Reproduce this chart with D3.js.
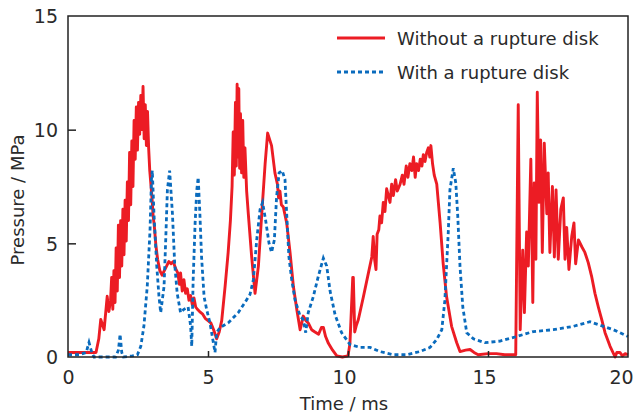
<!DOCTYPE html>
<html lang="en">
<head>
<meta charset="utf-8"/>
<title>Pressure vs time</title>
<style>
    body { margin: 0; background: #fff; }
    .axis text { font: 19px "DejaVu Sans", sans-serif; fill: #2a2a2a; }
    .axis line { stroke: #222; stroke-width: 1.5; }
    .title { font: 18px "DejaVu Sans", sans-serif; fill: #2a2a2a; }
    .legend text { font: 18px "DejaVu Sans", sans-serif; fill: #2a2a2a; }
</style>
</head>
<body>
<div id="graph"></div>
<script src="https://d3js.org/d3.v7.min.js"></script>
<script>
    // time (ms) and pressure (MPa)
    var redT = [0, 0.5, 1.0, 1.1, 1.17, 1.29, 1.40, 1.46, 1.52, 1.56, 1.60, 1.64, 1.68, 1.72, 1.76, 1.80, 1.84, 1.88, 1.92, 1.96,
        2.00, 2.04, 2.08, 2.12, 2.16, 2.20, 2.24, 2.28, 2.32, 2.36, 2.40, 2.44, 2.48, 2.52, 2.56, 2.60, 2.64, 2.68, 2.72, 2.76,
        2.80, 2.84, 2.88, 2.92, 2.96, 3.00, 3.04, 3.08, 3.14, 3.20, 3.28, 3.36, 3.44, 3.52, 3.60, 3.68, 3.76, 3.84, 3.92, 3.98,
        4.02, 4.08, 4.14, 4.20, 4.26, 4.32, 4.38, 4.44, 4.50, 4.56, 4.62, 4.70, 4.80, 4.90, 5.00, 5.10, 5.20, 5.31, 5.40, 5.49,
        5.61, 5.72, 5.80, 5.86, 5.90, 5.94, 5.98, 6.01, 6.04, 6.07, 6.10, 6.13, 6.16, 6.20, 6.24, 6.28, 6.32, 6.38, 6.44, 6.56,
        6.68, 6.80, 6.92, 7.04, 7.13, 7.27, 7.39, 7.48, 7.52, 7.57, 7.62, 7.69, 7.81, 7.93, 8.05, 8.17, 8.29, 8.35, 8.40, 8.50,
        8.58, 8.70, 8.82, 8.95, 9.05, 9.12, 9.20, 9.30, 9.45, 9.60, 9.80, 10.00, 10.07, 10.17, 10.19, 10.24, 10.30, 10.37, 10.55, 10.73,
        10.85, 10.90, 10.95, 11.00, 11.04, 11.10, 11.14, 11.20, 11.26, 11.32, 11.38, 11.44, 11.50, 11.56, 11.62, 11.70, 11.76, 11.86, 11.94, 12.00,
        12.08, 12.14, 12.21, 12.28, 12.34, 12.40, 12.45, 12.52, 12.58, 12.64, 12.69, 12.75, 12.81, 12.87, 12.92, 12.96, 13.02, 13.08, 13.17, 13.29,
        13.40, 13.52, 13.70, 13.88, 14.00, 14.20, 14.36, 14.50, 14.65, 15.00, 15.30, 15.60, 15.99, 16.08, 16.15, 16.24, 16.30, 16.38, 16.44, 16.53,
        16.60, 16.65, 16.71, 16.76, 16.82, 16.88, 16.94, 17.01, 17.10, 17.15, 17.21, 17.30, 17.37, 17.43, 17.51, 17.60, 17.69, 17.75, 17.81, 17.89,
        17.99, 18.07, 18.13, 18.23, 18.35, 18.46, 18.58, 18.70, 18.82, 18.94, 19.06, 19.18, 19.36, 19.54, 19.60, 19.71, 19.80, 19.90, 20.00];
    var redP = [0.2, 0.2, 0.2, 0.8, 1.65, 1.2, 2.67, 2.0, 2.5, 3.5, 2.1, 3.8, 2.4, 4.8, 2.9, 5.8, 3.5, 6.0, 4.0, 6.5,
        4.5, 6.9, 5.1, 7.7, 6.0, 9.0, 6.7, 9.5, 7.5, 10.4, 8.7, 11.0, 9.1, 11.2, 9.8, 11.5, 10.0, 11.9, 9.6, 11.1,
        9.3, 10.8, 9.2, 8.2, 7.6, 7.0, 6.2, 5.8, 4.9, 4.3, 3.8, 3.6, 3.8, 4.0, 4.2, 4.1, 4.2, 3.9, 3.7, 3.2,
        3.7, 2.9, 3.4, 2.8, 3.0, 2.5, 2.7, 2.3, 2.6, 2.2, 2.1, 2.0, 1.9, 1.7, 1.6, 1.5, 1.2, 0.8, 1.1, 1.6,
        3.1, 4.6, 6.0, 7.5, 9.9, 8.0, 11.2, 8.4, 12.0, 8.8, 11.8, 8.3, 10.7, 8.1, 10.4, 7.9, 9.2, 7.3, 6.3, 4.4,
        2.8, 4.0, 6.3, 8.5, 9.85, 9.3, 8.1, 7.6, 7.0, 7.3, 6.7, 6.6, 5.9, 4.6, 3.1, 2.1, 1.2, 1.5, 1.8, 1.6,
        1.5, 1.2, 1.1, 1.0, 1.3, 1.3, 0.9, 0.6, 0.3, 0.05, 0.0, 0.05, 0.6, 3.5, 3.5, 1.1, 1.4, 1.65, 2.65, 3.7,
        4.4, 5.3, 4.3, 3.85, 5.4, 5.6, 6.2, 5.9, 6.8, 6.4, 7.4, 7.1, 6.8, 7.6, 7.1, 7.8, 7.3, 7.6, 8.0, 7.6,
        8.4, 7.9, 8.5, 8.2, 8.8, 7.9, 8.5, 8.2, 8.7, 8.4, 8.9, 8.6, 9.0, 9.2, 8.8, 9.3, 8.5, 8.0, 7.6, 5.9,
        4.1, 2.66, 1.35, 0.64, 0.24, 0.3, 0.33, 0.2, 0.1, 0.15, 0.15, 0.1, 0.1, 11.1, 1.2, 4.7, 1.95, 5.5, 4.0, 8.7,
        2.4, 7.66, 4.3, 11.65, 6.8, 9.55, 4.6, 9.4, 6.3, 8.1, 4.6, 7.5, 4.4, 7.35, 4.3, 6.5, 7.0, 4.3, 5.7, 3.85,
        5.3, 5.9, 4.1, 5.15, 4.85, 4.6, 4.15, 3.55, 2.8, 2.2, 1.65, 1.07, 0.47, 0.0, 0.2, 0.2, 0.05, 0.15, 0.1];

    var blueT = [0, 0.4, 0.65, 0.75, 0.85, 0.93, 1.3, 1.7, 1.8, 1.86, 1.92, 1.98, 2.3, 2.48, 2.6, 2.71, 2.83, 2.93, 2.98, 3.01,
        3.07, 3.17, 3.25, 3.31, 3.43, 3.49, 3.55, 3.63, 3.73, 3.81, 3.90, 4.02, 4.14, 4.29, 4.38, 4.42, 4.47, 4.54, 4.60, 4.65,
        4.71, 4.77, 4.86, 4.95, 5.07, 5.19, 5.25, 5.31, 5.43, 5.72, 6.08, 6.32, 6.50, 6.62, 6.74, 6.86, 6.95, 7.06, 7.18, 7.27,
        7.37, 7.45, 7.54, 7.65, 7.75, 7.81, 7.89, 7.99, 8.11, 8.29, 8.40, 8.49, 8.58, 8.76, 8.94, 9.12, 9.24, 9.36, 9.54, 9.77,
        10.07, 10.43, 10.79, 11.14, 11.62, 12.10, 12.57, 12.93, 13.17, 13.35, 13.46, 13.52, 13.58, 13.64, 13.76, 13.85, 13.92, 14.00, 14.10, 14.24,
        14.48, 14.89, 15.43, 16.02, 16.62, 17.33, 18.05, 18.64, 19.00, 19.48, 19.83, 20.00];
    var blueP = [0.1, 0.1, 0.2, 0.64, 0.2, 0.0, 0.0, 0.0, 0.3, 1.0, 0.2, 0.0, 0.05, 0.1, 0.47, 1.35, 3.1, 5.6, 7.8, 8.2,
        6.3, 4.0, 2.65, 1.95, 3.1, 5.15, 7.35, 8.2, 6.3, 4.1, 2.8, 1.95, 2.1, 2.2, 1.35, 0.47, 3.4, 5.9, 7.35, 7.9,
        6.3, 4.4, 2.65, 2.1, 1.5, 0.64, 0.2, 1.07, 1.3, 1.5, 1.95, 2.4, 2.75, 3.4, 5.15, 6.5, 6.8, 6.0, 5.0, 4.6,
        5.15, 7.05, 8.1, 8.2, 7.8, 6.3, 4.4, 3.4, 2.5, 1.8, 1.65, 1.07, 1.95, 2.65, 3.55, 4.35, 4.0, 2.9, 1.85, 1.07,
        0.55, 0.42, 0.42, 0.24, 0.1, 0.1, 0.24, 0.42, 0.77, 1.2, 2.5, 4.0, 5.45, 7.35, 8.3, 7.65, 6.2, 4.0, 2.2, 1.07,
        0.8, 0.63, 0.7, 0.9, 1.12, 1.2, 1.35, 1.55, 1.4, 1.2, 1.0, 0.9];

    var xTicks = [0, 5, 10, 15, 20];
    var yTicks = [0, 5, 10, 15];
    var seriesNames = ["Without a rupture disk", "With a rupture disk"];
    var seriesColors = ["#ec1c24", "#0a6bbd"];

    var W = 636, H = 416;
    var x = d3.scaleLinear().domain([0, 20]).range([68, 628]);
    var y = d3.scaleLinear().domain([0, 15]).range([357, 16]);

    var svg = d3.select("#graph").append("svg")
        .attr("width", W)
        .attr("height", H);

    function pairs(ts, ps) {
        return ts.map(function (t, i) { return [t, ps[i]]; });
    }

    var line = d3.line()
        .x(function (d) { return x(d[0]); })
        .y(function (d) { return y(d[1]); });

    // red first, blue dashed above it
    svg.append("path")
        .datum(pairs(redT, redP))
        .attr("d", line)
        .attr("fill", "none")
        .attr("stroke", seriesColors[0])
        .attr("stroke-width", 2.9)
        .attr("stroke-linejoin", "round");

    svg.append("path")
        .datum(pairs(blueT, blueP))
        .attr("d", line)
        .attr("fill", "none")
        .attr("stroke", seriesColors[1])
        .attr("stroke-width", 2.8)
        .attr("stroke-dasharray", "4,3");

    // frame
    svg.append("rect")
        .attr("x", x(0)).attr("y", y(15))
        .attr("width", x(20) - x(0)).attr("height", y(0) - y(15))
        .attr("fill", "none")
        .attr("stroke", "#222")
        .attr("stroke-width", 1.5);

    var xAxis = d3.axisBottom(x).tickValues(xTicks).tickSizeInner(-6).tickSizeOuter(0).tickPadding(14);
    var yAxis = d3.axisLeft(y).tickValues(yTicks).tickSizeInner(-8).tickSizeOuter(0).tickPadding(10);

    var gx = svg.append("g").attr("class", "axis")
        .attr("transform", "translate(0," + y(0) + ")")
        .call(xAxis);
    gx.select(".domain").remove();
    gx.selectAll("line").filter(function (d) { return d === 0 || d === 20; }).remove();
    // labels sit a little left of their ticks in the original
    gx.selectAll("text").attr("dx", function (d) { return d === 20 ? -7 : (d >= 10 ? -4 : 0); });

    var gy = svg.append("g").attr("class", "axis")
        .attr("transform", "translate(" + x(0) + ",0)")
        .call(yAxis);
    gy.select(".domain").remove();
    gy.selectAll("line").filter(function (d) { return d === 0 || d === 15; }).remove();
    gy.selectAll("text").attr("dy", "0.36em");

    svg.append("text").attr("class", "title")
        .attr("x", 344).attr("y", 410)
        .attr("text-anchor", "middle")
        .text("Time / ms");

    svg.append("text").attr("class", "title")
        .attr("transform", "translate(24,200) rotate(-90)")
        .attr("text-anchor", "middle")
        .text("Pressure / MPa");

    // legend
    var lg = svg.append("g").attr("class", "legend");
    seriesNames.forEach(function (name, i) {
        var ly = 38 + i * 34;
        lg.append("line")
            .attr("x1", 337).attr("x2", 385)
            .attr("y1", ly).attr("y2", ly)
            .attr("stroke", seriesColors[i])
            .attr("stroke-width", 2.8)
            .attr("stroke-dasharray", i === 0 ? null : "4,3");
        lg.append("text")
            .attr("x", 397).attr("y", ly + 7)
            .text(name);
    });
</script>
</body>
</html>
